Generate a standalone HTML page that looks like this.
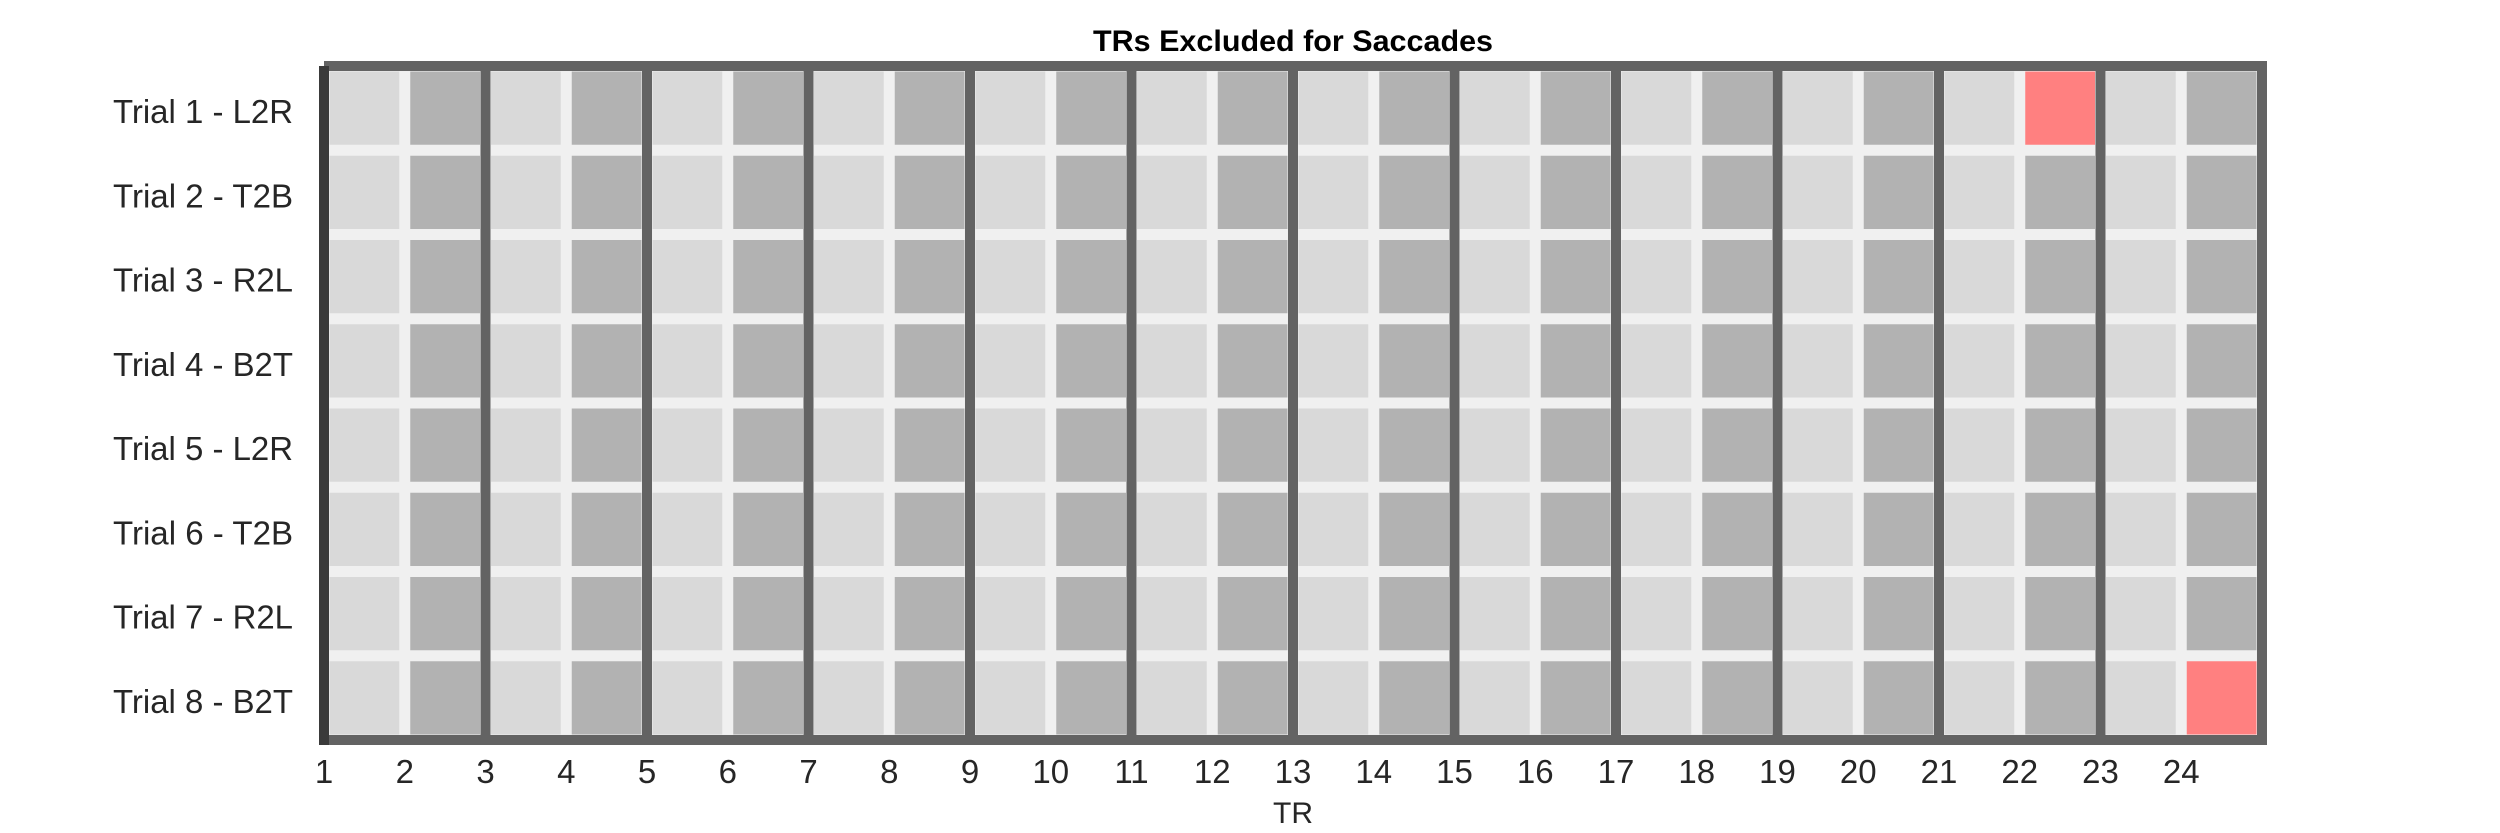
<!DOCTYPE html>
<html><head><meta charset="utf-8"><style>
html,body{margin:0;padding:0;background:#fff;}
svg{display:block;}
text{font-family:"Liberation Sans",sans-serif;fill:#262626;}
</style></head><body>
<svg id="chart" width="2500" height="833" viewBox="0 0 2500 833" xmlns="http://www.w3.org/2000/svg">
<text x="1293" y="51" text-anchor="middle" font-size="30" font-weight="bold" textLength="400" lengthAdjust="spacingAndGlyphs" style="fill:#000">TRs Excluded for Saccades</text>
<text x="1293" y="823" text-anchor="middle" font-size="30">TR</text>
<g id="cells"></g>
<g id="lines"></g>
<g id="labels"></g>
</svg>
<script>
const trials = ["Trial 1 - L2R","Trial 2 - T2B","Trial 3 - R2L","Trial 4 - B2T","Trial 5 - L2R","Trial 6 - T2B","Trial 7 - R2L","Trial 8 - B2T"];
const trs = [1,2,3,4,5,6,7,8,9,10,11,12,13,14,15,16,17,18,19,20,21,22,23,24];
const excludedTrial = [1, 8];
const excludedTR = [22, 24];

const NS="http://www.w3.org/2000/svg";
const X0=324, X1=2262, Y0=66, Y1=740;
const cw=(X1-X0)/trs.length, rh=(Y1-Y0)/trials.length;
const xs=i=>X0+i*cw, ys=j=>Y0+j*rh;
function mk(tag,attrs,parent){const e=document.createElementNS(NS,tag);for(const k in attrs)e.setAttribute(k,attrs[k]);parent.appendChild(e);return e;}
const cellsG=document.getElementById('cells'), linesG=document.getElementById('lines'), labelsG=document.getElementById('labels');
const bg=mk('rect',{x:X0,y:Y0,width:X1-X0,height:Y1-Y0,fill:'#f0f0f0'},cellsG);


const pad=5.5;
trials.forEach((t,j)=>{
  trs.forEach((tr,i)=>{
    let ex=false;
    for(let k=0;k<excludedTrial.length;k++) if(excludedTrial[k]===j+1&&excludedTR[k]===tr) ex=true;
    const fill=ex?'#ff8080':(tr%2===0?'#b2b2b2':'#d9d9d9');
    const r=mk('rect',{x:xs(i)+pad,y:ys(j)+pad,width:cw-2*pad,height:rh-2*pad,fill:fill},cellsG);
    
    
  });
  const lt=mk('text',{x:293,y:ys(j)+rh/2+15,'text-anchor':'end','font-size':'33',textLength:180,lengthAdjust:'spacingAndGlyphs'},labelsG);
  lt.textContent=t;
  
  
});
trs.forEach((tr,i)=>{
  const tt=mk('text',{x:xs(i),y:783,'text-anchor':'middle','font-size':'33'},labelsG);
  tt.textContent=tr;
  
  
});
for(let i=2;i<=trs.length;i+=2){
  const l=mk('line',{x1:xs(i),y1:Y0-5,x2:xs(i),y2:Y1+5,stroke:'#636363','stroke-width':10},linesG);
  
  
}
const topBorder=mk('line',{x1:X0,y1:Y0,x2:X1+5,y2:Y0,stroke:'#636363','stroke-width':10},linesG);


const botBorder=mk('line',{x1:X0,y1:Y1,x2:X1,y2:Y1,stroke:'#636363','stroke-width':10},linesG);


const leftBorder=mk('line',{x1:X0,y1:Y0,x2:X0,y2:Y1+5,stroke:'#3a3a3a','stroke-width':10},linesG);


</script>
</body></html>
